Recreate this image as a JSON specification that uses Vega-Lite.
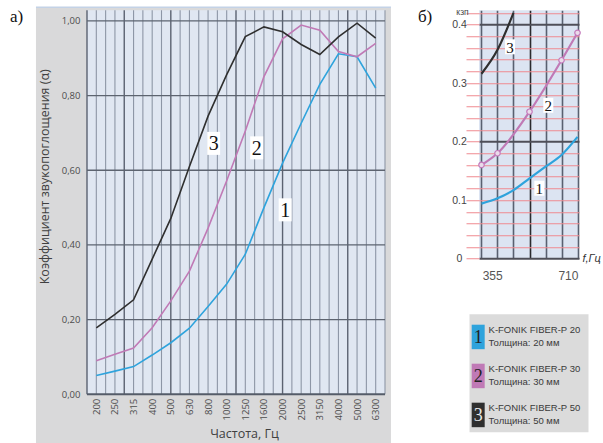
{
  "$schema": "https://vega.github.io/schema/vega-lite/v6.json",
  "background": "white",
  "padding": {"left": 10, "top": 6.25, "right": 0, "bottom": 0},
  "bounds": "flush",
  "spacing": 84.5,
  "config": {
    "view": {"stroke": null},
    "text": {"font": "Liberation Serif"}
  },
  "datasets": {
    "curves": [
      {"i": 0, "f": "200", "s": "1", "a": 0.050},
      {"i": 1, "f": "250", "s": "1", "a": 0.062},
      {"i": 2, "f": "315", "s": "1", "a": 0.074},
      {"i": 3, "f": "400", "s": "1", "a": 0.105},
      {"i": 4, "f": "500", "s": "1", "a": 0.138},
      {"i": 5, "f": "630", "s": "1", "a": 0.177},
      {"i": 6, "f": "800", "s": "1", "a": 0.235},
      {"i": 7, "f": "1000", "s": "1", "a": 0.295},
      {"i": 8, "f": "1250", "s": "1", "a": 0.375},
      {"i": 9, "f": "1600", "s": "1", "a": 0.500},
      {"i": 10, "f": "2000", "s": "1", "a": 0.619},
      {"i": 11, "f": "2500", "s": "1", "a": 0.726},
      {"i": 12, "f": "3150", "s": "1", "a": 0.830},
      {"i": 13, "f": "4000", "s": "1", "a": 0.912},
      {"i": 14, "f": "5000", "s": "1", "a": 0.904},
      {"i": 15, "f": "6300", "s": "1", "a": 0.820},
      {"i": 0, "f": "200", "s": "2", "a": 0.090},
      {"i": 1, "f": "250", "s": "2", "a": 0.107},
      {"i": 2, "f": "315", "s": "2", "a": 0.124},
      {"i": 3, "f": "400", "s": "2", "a": 0.178},
      {"i": 4, "f": "500", "s": "2", "a": 0.250},
      {"i": 5, "f": "630", "s": "2", "a": 0.330},
      {"i": 6, "f": "800", "s": "2", "a": 0.445},
      {"i": 7, "f": "1000", "s": "2", "a": 0.572},
      {"i": 8, "f": "1250", "s": "2", "a": 0.705},
      {"i": 9, "f": "1600", "s": "2", "a": 0.851},
      {"i": 10, "f": "2000", "s": "2", "a": 0.952},
      {"i": 11, "f": "2500", "s": "2", "a": 0.989},
      {"i": 12, "f": "3150", "s": "2", "a": 0.975},
      {"i": 13, "f": "4000", "s": "2", "a": 0.918},
      {"i": 14, "f": "5000", "s": "2", "a": 0.904},
      {"i": 15, "f": "6300", "s": "2", "a": 0.940},
      {"i": 0, "f": "200", "s": "3", "a": 0.178},
      {"i": 1, "f": "250", "s": "3", "a": 0.214},
      {"i": 2, "f": "315", "s": "3", "a": 0.253},
      {"i": 3, "f": "400", "s": "3", "a": 0.362},
      {"i": 4, "f": "500", "s": "3", "a": 0.471},
      {"i": 5, "f": "630", "s": "3", "a": 0.610},
      {"i": 6, "f": "800", "s": "3", "a": 0.745},
      {"i": 7, "f": "1000", "s": "3", "a": 0.856},
      {"i": 8, "f": "1250", "s": "3", "a": 0.958},
      {"i": 9, "f": "1600", "s": "3", "a": 0.984},
      {"i": 10, "f": "2000", "s": "3", "a": 0.971},
      {"i": 11, "f": "2500", "s": "3", "a": 0.937},
      {"i": 12, "f": "3150", "s": "3", "a": 0.910},
      {"i": 13, "f": "4000", "s": "3", "a": 0.957},
      {"i": 14, "f": "5000", "s": "3", "a": 0.994},
      {"i": 15, "f": "6300", "s": "3", "a": 0.954}
    ],
    "curveLabels": [
      {"label": "3", "i": 6.30, "a": 0.672},
      {"label": "2", "i": 8.61, "a": 0.660},
      {"label": "1", "i": 10.14, "a": 0.494}
    ],
    "thinLines": [
      {"i": 0}, {"i": 0.5}, {"i": 1}, {"i": 2}, {"i": 2.5}, {"i": 3}, {"i": 3.5},
      {"i": 4.5}, {"i": 5}, {"i": 5.5}, {"i": 6}, {"i": 6.5}, {"i": 7},
      {"i": 8}, {"i": 8.5}, {"i": 9}, {"i": 9.5}, {"i": 10.5}, {"i": 11},
      {"i": 11.5}, {"i": 12}, {"i": 12.5}, {"i": 13}, {"i": 14}, {"i": 14.5},
      {"i": 15}, {"i": 15.5}
    ],
    "darkLines": [{"i": -0.5}, {"i": 1.5}, {"i": 4}, {"i": 7.5}, {"i": 10}, {"i": 13.5}],
    "levelLines": [{"a": 0.2}, {"a": 0.4}, {"a": 0.6}, {"a": 0.8}, {"a": 1.0}],
    "octave": [
      {"hz": 305, "s": "1", "a": 0.094},
      {"hz": 380, "s": "1", "a": 0.103},
      {"hz": 455, "s": "1", "a": 0.117},
      {"hz": 530, "s": "1", "a": 0.137},
      {"hz": 605, "s": "1", "a": 0.157},
      {"hz": 680, "s": "1", "a": 0.177},
      {"hz": 755, "s": "1", "a": 0.208},
      {"hz": 305, "s": "2", "a": 0.160},
      {"hz": 380, "s": "2", "a": 0.180},
      {"hz": 530, "s": "2", "a": 0.251},
      {"hz": 680, "s": "2", "a": 0.339},
      {"hz": 755, "s": "2", "a": 0.386},
      {"hz": 305, "s": "3", "a": 0.316},
      {"hz": 380, "s": "3", "a": 0.357},
      {"hz": 455, "s": "3", "a": 0.420}
    ],
    "octaveLabels": [
      {"label": "3", "hz": 438.6, "a": 0.362},
      {"label": "2", "hz": 618.1, "a": 0.262},
      {"label": "1", "hz": 575.9, "a": 0.120}
    ],
    "legendRows": [
      {"k": 0, "s": "1", "name": "K-FONIK FIBER-P 20", "thick": "Толщина: 20 мм"},
      {"k": 1, "s": "2", "name": "K-FONIK FIBER-P 30", "thick": "Толщина: 30 мм"},
      {"k": 2, "s": "3", "name": "K-FONIK FIBER-P 50", "thick": "Толщина: 50 мм"}
    ]
  },
  "hconcat": [
    {
      "width": 298,
      "height": 384,
      "view": {"fill": null, "stroke": null},
      "encoding": {
        "x": {
          "type": "quantitative",
          "scale": {"domain": [-0.5, 15.5], "nice": false, "zero": false},
          "axis": {
            "zindex": 1,
            "values": [0, 1, 2, 3, 4, 5, 6, 7, 8, 9, 10, 11, 12, 13, 14, 15],
            "labelExpr": "['200','250','315','400','500','630','800','1000','1250','1600','2000','2500','3150','4000','5000','6300'][datum.value]",
            "labelAngle": -90,
            "labelFont": "Open Sans",
            "labelFontSize": 9.5,
            "labelColor": "#4d4d4d",
            "labelPadding": 4,
            "ticks": false,
            "domain": false,
            "grid": false,
            "title": "Частота, Гц",
            "titleFont": "Open Sans",
            "titleFontSize": 12.5,
            "titleFontWeight": "normal",
            "titleColor": "#404040",
            "titlePadding": 8,
            "titleX": 157
          }
        },
        "y": {
          "type": "quantitative",
          "scale": {"domain": [0, 1.0286], "nice": false, "zero": false},
          "axis": {
            "zindex": 1,
            "values": [0, 0.2, 0.4, 0.6, 0.8, 1.0],
            "labelExpr": "replace(format(datum.value, '.2f'), '.', ',')",
            "labelFont": "Open Sans",
            "labelFontSize": 9.5,
            "labelColor": "#4d4d4d",
            "labelPadding": 7,
            "ticks": false,
            "domain": false,
            "grid": false,
            "title": "Коэффициент звукопоглощения (α)",
            "titleFont": "Open Sans",
            "titleFontSize": 12.5,
            "titleFontWeight": "normal",
            "titleColor": "#404040",
            "titleY": 166,
            "titleX": -43,
            "titleBaseline": "middle"
          }
        }
      },
      "layer": [
        {
          "data": {"values": [{}]},
          "mark": {"type": "rect", "fill": "#d9d9da", "clip": false},
          "encoding": {
            "x": {"datum": -3.24}, "x2": {"datum": 15.82},
            "y": {"datum": -0.14}, "y2": {"datum": 1.0353}
          }
        },
        {
          "data": {"values": [{}]},
          "mark": {"type": "rule", "stroke": "#c3d2e6", "strokeWidth": 1.5, "clip": false},
          "encoding": {
            "x": {"datum": -3.24}, "x2": {"datum": 15.82},
            "y": {"datum": 1.0366}
          }
        },
        {
          "data": {"values": [{}]},
          "mark": {"type": "rect", "fill": "#e0e7f2"},
          "encoding": {
            "x": {"datum": -0.5}, "x2": {"datum": 15.5},
            "y": {"datum": 0}, "y2": {"datum": 1.0286}
          }
        },
        {
          "data": {"name": "thinLines"},
          "mark": {"type": "rule", "stroke": "#8d96a6", "strokeWidth": 1.1},
          "encoding": {"x": {"field": "i", "type": "quantitative"}}
        },
        {
          "data": {"name": "darkLines"},
          "mark": {"type": "rule", "stroke": "#5b6271", "strokeWidth": 1.4},
          "encoding": {"x": {"field": "i", "type": "quantitative"}}
        },
        {
          "data": {"name": "levelLines"},
          "mark": {"type": "rule", "stroke": "#5d6470", "strokeWidth": 1.3},
          "encoding": {"y": {"field": "a", "type": "quantitative"}}
        },
        {
          "data": {"values": [{}]},
          "mark": {"type": "rule", "stroke": "#555c69", "strokeWidth": 1.8},
          "encoding": {"y": {"datum": 0}}
        },
        {
          "data": {"name": "curves"},
          "mark": {"type": "line", "strokeWidth": 1.6},
          "encoding": {
            "x": {"field": "i", "type": "quantitative"},
            "y": {"field": "a", "type": "quantitative"},
            "color": {
              "field": "s", "type": "nominal", "legend": null,
              "scale": {"domain": ["1", "2", "3"], "range": ["#2ea3dc", "#c07ab6", "#2f2f2f"]}
            }
          }
        },
        {
          "data": {"name": "curveLabels"},
          "mark": {"type": "tick", "orient": "vertical", "thickness": 13, "size": 23, "color": "white", "opacity": 1},
          "encoding": {
            "x": {"field": "i", "type": "quantitative"},
            "y": {"field": "a", "type": "quantitative"}
          }
        },
        {
          "data": {"name": "curveLabels"},
          "mark": {"type": "text", "font": "Liberation Serif", "fontSize": 20, "color": "#111111", "baseline": "middle", "dy": 1},
          "encoding": {
            "x": {"field": "i", "type": "quantitative"},
            "y": {"field": "a", "type": "quantitative"},
            "text": {"field": "label"}
          }
        },
        {
          "data": {"values": [{}]},
          "mark": {"type": "text", "font": "Liberation Serif", "fontSize": 17, "color": "#111111", "align": "left", "baseline": "middle", "clip": false},
          "encoding": {
            "x": {"datum": -4.63},
            "y": {"datum": 1.0106},
            "text": {"value": "a)"}
          }
        }
      ]
    },
    {
      "vconcat": [
        {
          "width": 100,
          "height": 248.3,
          "view": {"fill": "#dce4f2", "stroke": null},
          "encoding": {
            "x": {
              "type": "quantitative",
              "scale": {"domain": [293.3, 762], "nice": false, "zero": false},
              "axis": {
                "values": [305, 355, 380, 455, 530, 605, 680, 710, 755],
                "grid": true,
                "gridColor": {"condition": {"test": "datum.value == 530", "value": "#2a2a2e"}, "value": "#596070"},
                "gridOpacity": {"condition": {"test": "datum.value == 355 || datum.value == 710", "value": 0}, "value": 1},
                "gridWidth": 1.6,
                "labelExpr": "datum.value == 355 || datum.value == 710 ? datum.label : ''",
                "labelFont": "Liberation Sans",
                "labelFontSize": 12,
                "labelColor": "#555555",
                "labelPadding": 12,
                "ticks": false,
                "domain": false,
                "title": "f,Гц",
                "titleFont": "Liberation Sans",
                "titleFontStyle": "italic",
                "titleFontWeight": "normal",
                "titleFontSize": 11,
                "titleColor": "#333333",
                "titleX": 103,
                "titleY": 0,
                "titleAlign": "left",
                "titleBaseline": "middle"
              }
            },
            "y": {
              "type": "quantitative",
              "scale": {"domain": [0, 0.4245], "nice": false, "zero": false},
              "axis": {
                "values": [0, 0.02, 0.04, 0.06, 0.08, 0.1, 0.12, 0.14, 0.16, 0.18, 0.2, 0.22, 0.24, 0.26, 0.28, 0.3, 0.32, 0.34, 0.36, 0.38, 0.4, 0.42],
                "grid": true,
                "gridColor": {"condition": {"test": "datum.value < 0.001 || abs(datum.value - 0.2) < 0.001 || abs(datum.value - 0.4) < 0.001", "value": "#4f4f58"}, "value": "#ef8a90"},
                "gridWidth": {"condition": {"test": "datum.value < 0.001 || abs(datum.value - 0.2) < 0.001 || abs(datum.value - 0.4) < 0.001", "value": 2}, "value": 1},
                "ticks": true,
                "tickColor": "#ef8a90",
                "tickSize": 13,
                "tickWidth": 1,
                "labelExpr": "abs(datum.value * 10 - round(datum.value * 10)) < 0.001 ? (datum.value < 0.001 ? '0' : format(datum.value, '.1f')) : ''",
                "labelAlign": "center",
                "labelPadding": 7,
                "labelFont": "Liberation Sans",
                "labelFontSize": 10.5,
                "labelColor": "#444444",
                "domain": false,
                "title": "кзп",
                "titleFont": "Liberation Sans",
                "titleFontSize": 8.5,
                "titleFontWeight": "normal",
                "titleColor": "#444444",
                "titleAngle": 0,
                "titleX": -17,
                "titleY": 1,
                "titleAlign": "center",
                "titleBaseline": "middle"
              }
            }
          },
          "layer": [
            {
              "data": {"name": "octave"},
              "mark": {"type": "line", "strokeWidth": 2.2, "interpolate": "monotone", "clip": true},
              "encoding": {
                "x": {"field": "hz", "type": "quantitative"},
                "y": {"field": "a", "type": "quantitative"},
                "color": {
                  "field": "s", "type": "nominal", "legend": null,
                  "scale": {"domain": ["1", "2", "3"], "range": ["#2aa7e0", "#c479bb", "#262626"]}
                }
              }
            },
            {
              "data": {"name": "octave"},
              "transform": [{"filter": "datum.s == '2'"}],
              "mark": {"type": "point", "shape": "circle", "size": 30, "filled": true, "fill": "#eadbea", "stroke": "#c479bb", "strokeWidth": 1.2, "opacity": 1},
              "encoding": {
                "x": {"field": "hz", "type": "quantitative"},
                "y": {"field": "a", "type": "quantitative"}
              }
            },
            {
              "data": {"name": "octaveLabels"},
              "mark": {"type": "tick", "orient": "vertical", "thickness": 10, "size": 15, "color": "white", "opacity": 1},
              "encoding": {
                "x": {"field": "hz", "type": "quantitative"},
                "y": {"field": "a", "type": "quantitative"}
              }
            },
            {
              "data": {"name": "octaveLabels"},
              "mark": {"type": "text", "font": "Liberation Serif", "fontSize": 15, "color": "#111111", "baseline": "middle", "dy": 1},
              "encoding": {
                "x": {"field": "hz", "type": "quantitative"},
                "y": {"field": "a", "type": "quantitative"},
                "text": {"field": "label"}
              }
            },
            {
              "data": {"values": [{}]},
              "mark": {"type": "text", "font": "Liberation Serif", "fontSize": 17, "color": "#111111", "align": "left", "baseline": "middle", "clip": false},
              "encoding": {
                "x": {"datum": 7},
                "y": {"datum": 0.4125},
                "text": {"value": "б)"}
              }
            }
          ]
        },
        {
          "width": 119,
          "height": 118,
          "view": {"fill": "#dbdbdb", "stroke": null},
          "data": {"name": "legendRows"},
          "encoding": {
            "y": {
              "field": "k", "type": "quantitative", "axis": null,
              "scale": {"domain": [-0.582, 2.444], "reverse": true, "nice": false, "zero": false}
            }
          },
          "layer": [
            {
              "mark": {"type": "tick", "orient": "vertical", "thickness": 13, "size": 24.5, "opacity": 1},
              "encoding": {
                "x": {"datum": 0.073, "type": "quantitative", "scale": {"domain": [0, 1], "nice": false, "zero": false}, "axis": null},
                "color": {
                  "field": "s", "type": "nominal", "legend": null,
                  "scale": {"domain": ["1", "2", "3"], "range": ["#2aa7e0", "#b767aa", "#231f20"]}
                }
              }
            },
            {
              "mark": {"type": "text", "font": "Liberation Serif", "fontSize": 18, "baseline": "middle", "dy": 1},
              "encoding": {
                "x": {"datum": 0.073, "type": "quantitative"},
                "text": {"field": "s"},
                "color": {"condition": {"test": "datum.s == '3'", "value": "#e8e8e8"}, "value": "#222222"}
              }
            },
            {
              "mark": {"type": "text", "font": "Liberation Sans", "fontSize": 9.5, "align": "left", "baseline": "middle", "dy": -6.5, "color": "#3a3a3a"},
              "encoding": {
                "x": {"datum": 0.16, "type": "quantitative"},
                "text": {"field": "name"}
              }
            },
            {
              "mark": {"type": "text", "font": "Liberation Sans", "fontSize": 9.5, "align": "left", "baseline": "middle", "dy": 6.5, "color": "#3a3a3a"},
              "encoding": {
                "x": {"datum": 0.16, "type": "quantitative"},
                "text": {"field": "thick"}
              }
            }
          ]
        }
      ],
      "spacing": 55,
      "bounds": "flush",
      "center": true
    }
  ]
}
